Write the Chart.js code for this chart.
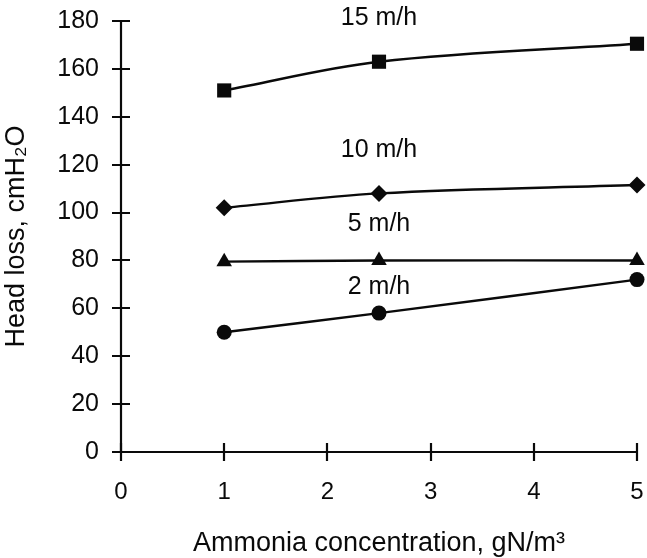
<!DOCTYPE html>
<html>
<head>
<meta charset="utf-8">
<script src="https://cdn.jsdelivr.net/npm/chart.js@4/dist/chart.umd.min.js"></script>
<style>
  html, body { margin: 0; padding: 0; background: #fff; }
  #wrap { width: 647px; height: 558px; }
</style>
</head>
<body>
<div id="wrap"><canvas id="c" width="647" height="558"></canvas></div>
<script>
// ---- data ----
const concentrations = [1, 2.5, 5];            // gN/m3
const rate2  = [50, 58, 72];                    // 2 m/h
const rate5  = [79.5, 80, 80];                  // 5 m/h
const rate10 = [102, 108, 111.5];               // 10 m/h
const rate15 = [151, 163, 170.5];               // 15 m/h
const seriesNames = ['2 m/h', '5 m/h', '10 m/h', '15 m/h'];
const xTicks = [0, 1, 2, 3, 4, 5];
const yTicks = [0, 20, 40, 60, 80, 100, 120, 140, 160, 180];
// label anchor points (data coordinates) for series names
const labelX = [2.5, 2.5, 2.5, 2.5];
const labelY = [69, 95, 126, 181];

const INK = '#0a0a0a';
const FONT = "'Liberation Sans', Arial, sans-serif";

function pts(ys) { return concentrations.map((x, i) => ({ x: x, y: ys[i] })); }

const styles = [
  { pointStyle: 'circle',   radius: 7.5 },
  { pointStyle: 'triangle', radius: 9 },
  { pointStyle: 'rectRot',  radius: 8.5 },
  { pointStyle: 'rect',     radius: 10 }
];
const allSeries = [rate2, rate5, rate10, rate15];

const datasets = allSeries.map((ys, i) => ({
  label: seriesNames[i],
  data: pts(ys),
  borderColor: INK,
  backgroundColor: INK,
  borderWidth: 2.4,
  pointStyle: styles[i].pointStyle,
  pointRadius: styles[i].radius,
  pointBorderWidth: 0,
  pointBackgroundColor: INK,
  tension: 0.35,
  clip: false,
  fill: false
}));

const decor = {
  id: 'decor',
  afterDraw(chart) {
    const ctx = chart.ctx;
    const xs = chart.scales.x, ys = chart.scales.y;
    const L = chart.chartArea.left, R = chart.chartArea.right;
    const T = chart.chartArea.top, B = chart.chartArea.bottom;
    ctx.save();
    ctx.strokeStyle = INK;
    ctx.lineWidth = 2.2;
    ctx.lineCap = 'butt';
    ctx.beginPath();
    ctx.moveTo(L, T); ctx.lineTo(L, B); ctx.lineTo(R, B);
    ctx.stroke();
    ctx.beginPath();
    yTicks.forEach(v => {
      const p = Math.round(ys.getPixelForValue(v));
      ctx.moveTo(L - 9, p); ctx.lineTo(L + 9, p);
    });
    xTicks.forEach(v => {
      const p = Math.round(xs.getPixelForValue(v));
      ctx.moveTo(p, B - 9); ctx.lineTo(p, B + 9);
    });
    ctx.stroke();
    // series labels
    ctx.fillStyle = INK;
    ctx.font = '25px ' + FONT;
    ctx.textAlign = 'center';
    ctx.textBaseline = 'middle';
    seriesNames.forEach((n, i) => {
      ctx.fillText(n, xs.getPixelForValue(labelX[i]), ys.getPixelForValue(labelY[i]));
    });
    ctx.restore();
  }
};

new Chart(document.getElementById('c'), {
  type: 'line',
  data: { datasets: datasets },
  options: {
    responsive: false,
    animation: false,
    devicePixelRatio: 1,
    layout: { padding: { top: 21, right: 9, left: 0, bottom: 0 } },
    plugins: { legend: { display: false }, tooltip: { enabled: false } },
    scales: {
      x: {
        type: 'linear',
        min: 0, max: 5,
        afterFit(s) { s.height = 106; s.paddingLeft = 0; s.paddingRight = 0; },
        afterBuildTicks(s) { s.ticks = xTicks.map(v => ({ value: v })); },
        grid: { display: false, drawTicks: false },
        border: { display: false },
        ticks: { color: INK, padding: 26, maxRotation: 0, font: { family: FONT, size: 24 } },
        title: {
          display: true,
          text: 'Ammonia concentration, gN/m\u00B3',
          color: INK,
          padding: { top: 0, bottom: 0 },
          font: { family: FONT, size: 27, lineHeight: 1.1 }
        }
      },
      y: {
        type: 'linear',
        min: 0, max: 180,
        afterFit(s) { s.width = 121; s.paddingTop = 0; s.paddingBottom = 0; },
        afterBuildTicks(s) { s.ticks = yTicks.map(v => ({ value: v })); },
        grid: { display: false, drawTicks: false },
        border: { display: false },
        ticks: { color: INK, padding: 22, font: { family: FONT, size: 25 } },
        title: {
          display: true,
          text: 'Head loss, cmH\u2082O',
          color: INK,
          padding: { top: 2, bottom: 0 },
          font: { family: FONT, size: 27, lineHeight: 1.1 }
        }
      }
    }
  },
  plugins: [decor]
});
</script>
</body>
</html>
